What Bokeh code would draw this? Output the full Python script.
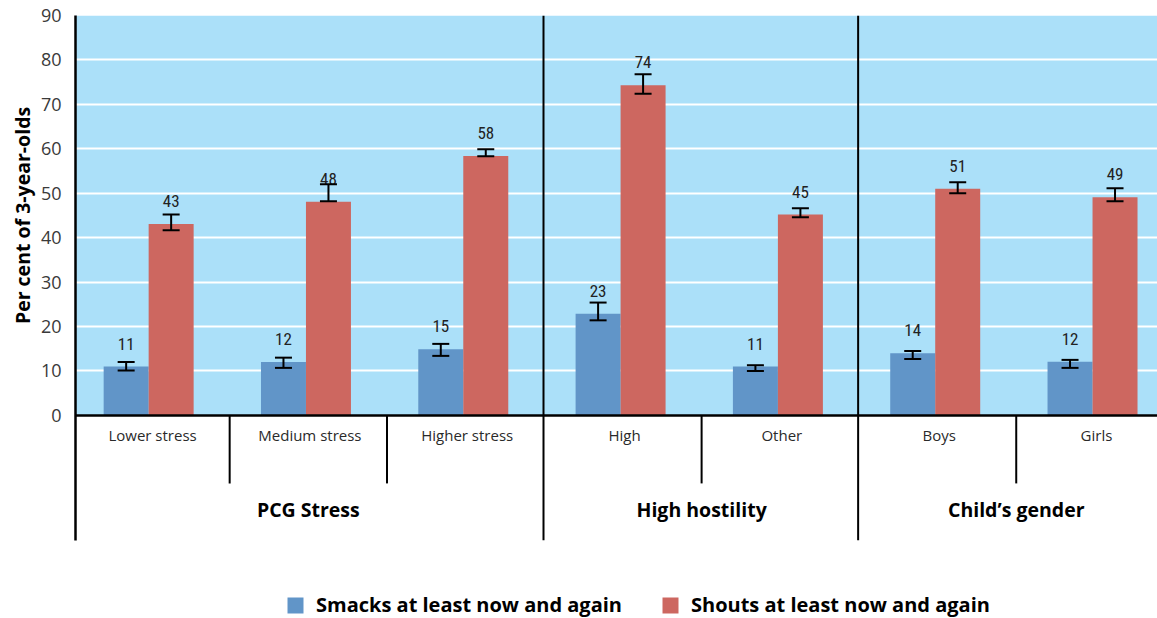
import numpy as np
from bokeh.plotting import figure
from bokeh.layouts import row
from bokeh.models import (ColumnDataSource, Range1d, FixedTicker, Whisker, TeeHead,
                          Span, Legend, LegendItem)
from bokeh.core.properties import value
from bokeh.embed import file_html
from bokeh.resources import INLINE

# ---------------- data ----------------
categories = ["Lower stress", "Medium stress", "Higher stress", "High", "Other", "Boys", "Girls"]
groups = ["PCG Stress", "High hostility", "Child\u2019s gender"]
group_sizes = [3, 2, 2]

smacks = [11.0, 12.0, 14.9, 22.9, 11.0, 14.0, 12.1]
smacks_lo = [10.1, 10.7, 13.4, 21.4, 10.0, 12.7, 10.7]
smacks_hi = [12.0, 13.0, 16.1, 25.4, 11.3, 14.5, 12.5]
smacks_lbl = ["11", "12", "15", "23", "11", "14", "12"]

shouts = [43.1, 48.1, 58.4, 74.3, 45.2, 51.0, 49.1]
shouts_lo = [41.7, 48.2, 58.3, 72.4, 44.6, 50.0, 48.2]
shouts_hi = [45.2, 52.0, 59.9, 76.8, 46.6, 52.5, 51.1]
shouts_lbl = ["43", "48", "58", "74", "45", "51", "49"]

y_ticks = [0, 10, 20, 30, 40, 50, 60, 70, 80, 90]
series_names = ["Smacks at least now and again", "Shouts at least now and again"]
y_title = "Per cent of 3-year-olds"

# ---------------- style ----------------
BG = "#abe0f9"
BLUE = "#6195c8"
RED = "#cd6760"
FONT = "Open Sans"
NUM_FONT = "Liberation Sans Narrow, Roboto Condensed, Arial Narrow, sans-serif"

n = len(categories)
idx = np.arange(n)
center = idx + 0.465
bw = 0.286

src_s = ColumnDataSource(dict(x=center - bw / 2, top=smacks, lo=smacks_lo, hi=smacks_hi, lbl=smacks_lbl))
src_h = ColumnDataSource(dict(x=center + bw / 2, top=shouts, lo=shouts_lo, hi=shouts_hi, lbl=shouts_lbl))

Y_BOTTOM_AXIS = -28.1
Y_MIN = -45.7
TITLE_W = 36
yr = Range1d(Y_MIN, 90)

# ---- narrow figure carrying the y-axis title (centred on 0..90) ----
pt = figure(width=TITLE_W, height=618, output_backend="svg", toolbar_location=None,
            x_range=Range1d(0, TITLE_W), y_range=yr, x_axis_location=None, y_axis_location=None,
            min_border_left=0, min_border_right=0, min_border_top=15, min_border_bottom=0)
pt.outline_line_color = None
pt.grid.visible = False
pt.background_fill_color = "white"
pt.border_fill_color = "white"
pt.text(x=[22], y=[(y_ticks[0] + y_ticks[-1]) / 2], text=[y_title], angle=np.pi / 2,
        text_align="center", text_baseline="middle", text_font=value(FONT),
        text_font_style="bold", text_font_size="19.5px", text_color="black")

# ---- main chart ----
p = figure(width=1157 - TITLE_W, height=618, output_backend="svg", toolbar_location=None,
           x_range=Range1d(0, 6.878), y_range=yr,
           x_axis_location=None, min_border_left=75 - TITLE_W, min_border_right=0,
           min_border_top=15, min_border_bottom=0)
p.outline_line_color = None
p.background_fill_color = "white"
p.border_fill_color = "white"

# light-blue plotting area 0..90, drawn beneath the grid
bg = p.quad(left=[-1], right=[n + 1], bottom=[0], top=[y_ticks[-1]], fill_color=BG, line_color=None)
bg.level = "image"

# grid
p.xgrid.visible = False
p.ygrid.ticker = FixedTicker(ticks=y_ticks[1:-1])
p.ygrid.grid_line_color = "white"
p.ygrid.grid_line_width = 2

# y axis
p.yaxis.ticker = FixedTicker(ticks=y_ticks)
p.yaxis.bounds = (Y_BOTTOM_AXIS, 90)
p.yaxis.axis_line_color = "black"
p.yaxis.axis_line_width = 2.5
p.yaxis.major_tick_line_color = None
p.yaxis.minor_tick_line_color = None
p.yaxis.major_label_text_font = FONT
p.yaxis.major_label_text_font_size = "18px"
p.yaxis.major_label_text_color = "#3a3a3a"
p.yaxis.major_label_standoff = 8

# bars
r1 = p.vbar(x="x", top="top", width=bw, bottom=0, source=src_s, fill_color=BLUE, line_color=None)
r2 = p.vbar(x="x", top="top", width=bw, bottom=0, source=src_h, fill_color=RED, line_color=None)

# error bars + value labels
for src in (src_s, src_h):
    p.add_layout(Whisker(source=src, base="x", lower="lo", upper="hi", line_color="black", line_width=2,
                         level="annotation",
                         upper_head=TeeHead(size=17, line_width=2, line_color="black"),
                         lower_head=TeeHead(size=17, line_width=2, line_color="black")))
    p.text(x="x", y="top", text="lbl", source=src, y_offset=-23, text_align="center",
           text_baseline="middle", text_font=value(NUM_FONT), text_font_size="17px", text_color="#222222")

# zero line
p.add_layout(Span(location=0, dimension="width", line_color="black", line_width=2.5))

# category labels
p.text(x=idx + 0.49, y=[-4.5] * n, text=categories, text_align="center", text_baseline="middle",
       text_font=value(FONT), text_font_size="15px", text_color="#2a2a2a")

# separators
bounds = np.cumsum(group_sizes)
group_starts = np.concatenate([[0], bounds[:-1]])
sub_sep = [i - 0.02 for i in range(1, n) if i not in set(bounds)]
p.segment(x0=sub_sep, y0=[0] * len(sub_sep), x1=sub_sep, y1=[-15.3] * len(sub_sep),
          line_color="black", line_width=2)
grp_sep = [b - 0.025 for b in bounds[:-1]]
p.segment(x0=grp_sep, y0=[90] * len(grp_sep), x1=grp_sep, y1=[Y_BOTTOM_AXIS] * len(grp_sep),
          line_color="black", line_width=2)

# group labels
gcent = (group_starts + bounds) / 2 - 0.02
p.text(x=gcent, y=[-21.2] * len(groups), text=groups, text_align="center", text_baseline="middle",
       text_font=value(FONT), text_font_style="bold", text_font_size="19.5px", text_color="black")

# legend
legend = Legend(items=[LegendItem(label=series_names[0], renderers=[r1]),
                       LegendItem(label=series_names[1], renderers=[r2])],
                location=(210, 0), orientation="horizontal", glyph_width=20, glyph_height=20,
                label_standoff=11, spacing=38, padding=0, margin=0,
                label_text_font=FONT, label_text_font_style="bold", label_text_font_size="20px",
                label_text_color="black", border_line_color=None, background_fill_alpha=0,
                label_height=20)
p.add_layout(legend)

layout = row(pt, p, spacing=0)
open("out.html", "w").write(file_html(layout, INLINE))
